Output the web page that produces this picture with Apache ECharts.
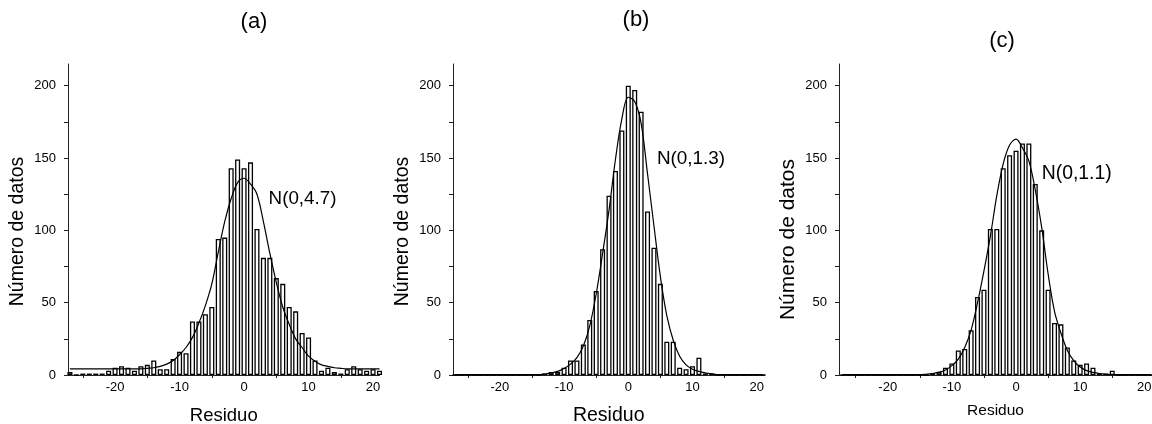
<!DOCTYPE html>
<html>
<head>
<meta charset="utf-8">
<script src="https://cdn.jsdelivr.net/npm/echarts@6/dist/echarts.min.js"></script>
<style>
html,body{margin:0;padding:0;background:#fff;}
#chart{width:1152px;height:424px;}
</style>
</head>
<body>
<div id="chart"></div>
<script>
// Bin centres (Residuo), shared by the three histograms
const bins = [-27,-26,-25,-24,-23,-22,-21,-20,-19,-18,-17,-16,-15,-14,-13,-12,-11,-10,-9,-8,-7,-6,-5,-4,-3,-2,-1,
  0,1,2,3,4,5,6,7,8,9,10,11,12,13,14,15,16,17,18,19,20,21];

// (a) counts and fitted curve N(0,4.7)
const countsA = [2,0,1,1,1,1,3,5,6,5,3,6,7,10,4,4,11,16,15,37,37,42,47,94,95,143,149,
  143,147,101,81,81,67,63,47,44,29,26,10,3,5,2,1,4,6,4,3,4,3];
const fitA = [4.3,4.3,4.3,4.3,4.3,4.3,4.3,4.3,4.3,4.3,4.3,4.3,4.6,5,6,7.5,10,14,19,26,36,48,63,85,106,122,133,
  136,132,125,106,84,64,47,35,25,19,13,9.5,7,6,5,4.6,4.3,4.3,4.3,4.3,4.3,4.3];

// (b) counts and fitted curve N(0,1.3)
const countsB = [0,0,0,0,0,0,0,0,0,0,0,0,0,0,1,2,2,5,10,10,21,38,58,87,124,141,169,
  200,197,182,113,88,63,23,23,5,4,6,12,1,1,0,0,0,0,0,0,0,0];
const fitB = [0.2,0.2,0.2,0.2,0.2,0.2,0.2,0.2,0.2,0.2,0.2,0.2,0.2,0.2,0.7,1.5,2.5,4.5,7.5,12,20,34,56,84,114,149,177,
  192,189,174,139,103,68,41,24,13,7,4,2.5,1.5,0.8,0.2,0.2,0.2,0.2,0.2,0.2,0.2,0.2];

// (c) counts and fitted curve N(0,1.1)
const countsC = [0,0,0,0,0,0,0,0,0,0,0,0,0,0,1,2,5,8,17,18,31,54,59,101,101,143,152,
  155,160,160,132,100,59,36,35,19,10,7,8,5,1,1,3,0,0,0,0,0,0];
const fitC = [0.2,0.2,0.2,0.2,0.2,0.2,0.2,0.2,0.2,0.2,0.2,0.2,0.2,0.5,1,2,3.5,6.5,11,19,31,50,72,96,124,146,159,
  163,157,148,128,102,70,44,29,17,10,5.5,3,1.8,1,0.5,0.2,0.2,0.2,0.2,0.2,0.2,0.2];

const panelTitles = ['(a)','(b)','(c)'];
const fitLabels = ['N(0,4.7)','N(0,1.3)','N(0,1.1)'];
const xName = 'Residuo';
const yName = 'Número de datos';
const xLabelValues = [-20,-10,0,10,20];
const xTickValues = [-25,-15,-5,5,15];
const yLabelValues = [0,50,100,150,200];
const yTickValues = [0,25,50,75,100,125,150,175,200];

const FONT = "'Liberation Sans', Arial, sans-serif";

// layout (pixels) per panel
const layout = [
  {left:68,  width:311.5, xmin:-27.3, xmax:21.0, xNameSize:18.5, yNameSize:19.5, xGap:31, yGap:40, yPad:24},
  {left:453, width:311.4, xmin:-27.3, xmax:21.2, xNameSize:19.5, yNameSize:19.5, xGap:31, yGap:40, yPad:24},
  {left:839, width:313,   xmin:-27.6, xmax:21.2, xNameSize:15.5, yNameSize:21,   xGap:28, yGap:40, yPad:40}
];
const TOP = 64, HEIGHT = 311, YMAX = 215;

const countsAll = [countsA, countsB, countsC];
const fitsAll = [fitA, fitB, fitC];

const grids = [], xAxes = [], yAxes = [], series = [];
layout.forEach((L, i) => {
  grids.push({left: L.left, top: TOP, width: L.width, height: HEIGHT, containLabel: false, outerBoundsMode: 'none'});
  xAxes.push({
    type: 'value', gridIndex: i, min: L.xmin, max: L.xmax,
    name: xName, nameLocation: 'middle', nameGap: L.xGap,
    nameTextStyle: {fontFamily: FONT, fontSize: L.xNameSize, color: '#000'},
    axisLine: {show: true, onZero: false, lineStyle: {color: '#222', width: 1}},
    axisTick: {show: true, inside: false, length: 3, customValues: xTickValues, lineStyle: {color: '#222'}},
    axisLabel: {customValues: xLabelValues, fontFamily: FONT, fontSize: 13, color: '#000', margin: 6},
    splitLine: {show: false}
  });
  yAxes.push({
    type: 'value', gridIndex: i, min: 0, max: YMAX,
    name: yName, nameLocation: 'middle', nameGap: L.yGap, nameRotate: 90,
    nameTextStyle: {fontFamily: FONT, fontSize: L.yNameSize, color: '#000', padding: [0, L.yPad, 0, 0]},
    axisLine: {show: true, onZero: false, lineStyle: {color: '#222', width: 1}},
    axisTick: {show: true, inside: false, length: 4, customValues: yTickValues, lineStyle: {color: '#222'}},
    axisLabel: {customValues: yLabelValues, fontFamily: FONT, fontSize: 13, color: '#000', margin: 12},
    splitLine: {show: false}
  });
  const unit = L.width / (L.xmax - L.xmin);
  series.push({
    type: 'bar', xAxisIndex: i, yAxisIndex: i,
    data: bins.map((b, k) => [b, countsAll[i][k]]),
    barWidth: unit - 1.4,
    itemStyle: {color: '#fff', borderColor: '#000', borderWidth: 1.3},
    emphasis: {disabled: true}, animation: false, z: 2
  });
  series.push({
    type: 'line', xAxisIndex: i, yAxisIndex: i,
    data: bins.map((b, k) => [b, fitsAll[i][k]]),
    smooth: 0.35, showSymbol: false, symbol: 'none',
    lineStyle: {color: '#000', width: 1.2},
    emphasis: {disabled: true}, animation: false, z: 3
  });
});

const titlePos = [[254, 22], [636, 20], [1002, 41]];
const labelPos = [[302.5, 198.5], [691, 159], [1076.7, 173.3]];
const labelSize = [18.8, 18.9, 19.4];
const graphics = [];
panelTitles.forEach((t, i) => {
  graphics.push({type: 'text', x: titlePos[i][0], y: titlePos[i][1], z: 10,
    style: {text: t, fill: '#000', font: '22px ' + FONT, textAlign: 'center', textVerticalAlign: 'middle'}});
  graphics.push({type: 'text', x: labelPos[i][0], y: labelPos[i][1], z: 10,
    style: {text: fitLabels[i], fill: '#000', font: labelSize[i] + 'px ' + FONT, textAlign: 'center', textVerticalAlign: 'middle'}});
});

const chart = echarts.init(document.getElementById('chart'), null, {renderer: 'canvas'});
chart.setOption({
  backgroundColor: '#fff',
  animation: false,
  grid: grids, xAxis: xAxes, yAxis: yAxes, series: series,
  graphic: graphics
});
</script>
</body>
</html>
